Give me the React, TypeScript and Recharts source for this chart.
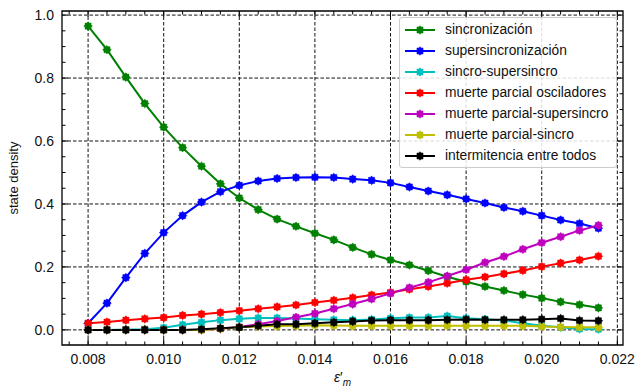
import { LineChart, Line, XAxis, YAxis, CartesianGrid, Legend, ReferenceArea } from 'recharts';

// coupling values on the x axis
const eps = [
  0.008, 0.0085, 0.009, 0.0095, 0.01, 0.0105, 0.011, 0.0115, 0.012, 0.0125,
  0.013, 0.0135, 0.014, 0.0145, 0.015, 0.0155, 0.016, 0.0165, 0.017, 0.0175,
  0.018, 0.0185, 0.019, 0.0195, 0.02, 0.0205, 0.021, 0.0215,
];

const sincronizacion = [
  0.965, 0.89, 0.803, 0.719, 0.644, 0.579, 0.52, 0.464, 0.419, 0.382,
  0.352, 0.329, 0.307, 0.286, 0.262, 0.24, 0.222, 0.206, 0.188, 0.169,
  0.153, 0.138, 0.125, 0.112, 0.101, 0.089, 0.08, 0.07,
];
const supersincronizacion = [
  0.021, 0.085, 0.166, 0.243, 0.309, 0.363, 0.406, 0.439, 0.459, 0.473,
  0.481, 0.484, 0.485, 0.484, 0.479, 0.475, 0.467, 0.454, 0.441, 0.429,
  0.416, 0.403, 0.389, 0.377, 0.363, 0.349, 0.338, 0.323,
];
const sincroSupersincro = [
  0, 0, 0.001, 0.002, 0.007, 0.016, 0.024, 0.031, 0.035, 0.038,
  0.038, 0.036, 0.034, 0.032, 0.031, 0.033, 0.037, 0.039, 0.039, 0.044,
  0.037, 0.034, 0.03, 0.021, 0.013, 0.008, 0.003, 0.002,
];
const muerteParcial = [
  0.021, 0.025, 0.031, 0.035, 0.039, 0.046, 0.05, 0.055, 0.061, 0.067,
  0.073, 0.079, 0.087, 0.094, 0.102, 0.111, 0.119, 0.129, 0.138, 0.148,
  0.159, 0.168, 0.178, 0.189, 0.201, 0.212, 0.222, 0.234,
];
const muerteSupersincro = [
  0, 0, 0, 0, 0, 0, 0, 0.004, 0.009, 0.018,
  0.028, 0.04, 0.052, 0.067, 0.082, 0.098, 0.116, 0.134, 0.151, 0.171,
  0.191, 0.214, 0.233, 0.256, 0.277, 0.296, 0.316, 0.332,
];
const muerteSincro = [
  0, 0, 0, 0, 0, 0, 0, 0.004, 0.008, 0.011,
  0.012, 0.013, 0.015, 0.014, 0.013, 0.013, 0.013, 0.013, 0.013, 0.013,
  0.013, 0.013, 0.013, 0.013, 0.011, 0.009, 0.008, 0.008,
];
const intermitencia = [
  0, 0, 0, 0, 0, 0, 0.002, 0.005, 0.008, 0.013,
  0.018, 0.018, 0.021, 0.024, 0.027, 0.03, 0.031, 0.031, 0.031, 0.032,
  0.033, 0.032, 0.032, 0.032, 0.034, 0.036, 0.03, 0.029,
];

const xMajor = [0.008, 0.01, 0.012, 0.014, 0.016, 0.018, 0.02, 0.022];
const xTicks = [
  0.0075, 0.008, 0.0085, 0.009, 0.0095, 0.01, 0.0105, 0.011, 0.0115, 0.012,
  0.0125, 0.013, 0.0135, 0.014, 0.0145, 0.015, 0.0155, 0.016, 0.0165, 0.017,
  0.0175, 0.018, 0.0185, 0.019, 0.0195, 0.02, 0.0205, 0.021, 0.0215, 0.022,
];
const yMajor = [0, 0.2, 0.4, 0.6, 0.8, 1.0];
const yTicks = [
  0, 0.05, 0.1, 0.15, 0.2, 0.25, 0.3, 0.35, 0.4, 0.45, 0.5,
  0.55, 0.6, 0.65, 0.7, 0.75, 0.8, 0.85, 0.9, 0.95, 1.0,
];

const series = [
  { key: 'sinc', name: 'sincronización', color: '#008000', values: sincronizacion },
  { key: 'super', name: 'supersincronización', color: '#0000ff', values: supersincronizacion },
  { key: 'sincSuper', name: 'sincro-supersincro', color: '#00bfbf', values: sincroSupersincro },
  { key: 'muerte', name: 'muerte parcial osciladores', color: '#ff0000', values: muerteParcial },
  { key: 'muerteSuper', name: 'muerte parcial-supersincro', color: '#bf00bf', values: muerteSupersincro },
  { key: 'muerteSinc', name: 'muerte parcial-sincro', color: '#bfbf00', values: muerteSincro },
  { key: 'inter', name: 'intermitencia entre todos', color: '#000000', values: intermitencia },
];

const data = eps.map((e, i) => {
  const row: Record<string, number> = { eps: e };
  series.forEach((s) => (row[s.key] = s.values[i]));
  return row;
});

const W = 635;
const H = 389;
const PLOT_LEFT = 62;
const PLOT_RIGHT = 623;
const PLOT_TOP = 11;
const PLOT_BOTTOM = 345;
const X_DOMAIN: [number, number] = [0.00731, 0.02215];
const Y_DOMAIN: [number, number] = [-0.048, 1.013];
const FONT = '"Liberation Sans", Arial, Helvetica, sans-serif';

const isMajor = (v: number, list: number[]) => list.some((m) => Math.abs(m - v) < 1e-9);

function starPoints(cx: number, cy: number, ro: number, ri: number) {
  const pts: string[] = [];
  for (let k = 0; k < 16; k++) {
    const r = k % 2 === 0 ? ro : ri;
    const a = (Math.PI / 8) * k - Math.PI / 2;
    pts.push(`${cx + r * Math.cos(a)},${cy + r * Math.sin(a)}`);
  }
  return pts.join(' ');
}

function Star({ cx, cy, color }: { cx: number; cy: number; color: string }) {
  if (cx == null || cy == null) return null;
  return <polygon points={starPoints(cx, cy, 4.3, 3.3)} fill={color} stroke={color} strokeWidth={0.5} />;
}

function XTick(props: any) {
  const { x, payload } = props;
  const v = payload.value as number;
  const major = isMajor(v, xMajor);
  const len = major ? 6 : 3.5;
  return (
    <g>
      <line x1={x} x2={x} y1={PLOT_BOTTOM} y2={PLOT_BOTTOM - len} stroke="#000" strokeWidth={1} />
      <line x1={x} x2={x} y1={PLOT_TOP} y2={PLOT_TOP + len} stroke="#000" strokeWidth={1} />
      {major && (
        <text x={x} y={PLOT_BOTTOM + 13.5} textAnchor="middle" dominantBaseline="central"
          fontFamily={FONT} fontSize={14} fill="#111">
          {v.toFixed(3)}
        </text>
      )}
    </g>
  );
}

function YTick(props: any) {
  const { y, payload } = props;
  const v = payload.value as number;
  const major = isMajor(v, yMajor);
  const len = major ? 6 : 3.5;
  return (
    <g>
      <line x1={PLOT_LEFT} x2={PLOT_LEFT + len} y1={y} y2={y} stroke="#000" strokeWidth={1} />
      <line x1={PLOT_RIGHT} x2={PLOT_RIGHT - len} y1={y} y2={y} stroke="#000" strokeWidth={1} />
      {major && (
        <text x={PLOT_LEFT - 8} y={y} textAnchor="end" dominantBaseline="central"
          fontFamily={FONT} fontSize={14} fill="#111">
          {v.toFixed(1)}
        </text>
      )}
    </g>
  );
}

function LegendBox() {
  return (
    <div
      style={{
        border: '1px solid #cccccc',
        borderRadius: 3,
        background: 'rgba(255,255,255,0.85)',
        padding: '1px 0',
        width: 216,
        fontFamily: FONT,
        fontSize: 13.8,
        color: '#111',
      }}
    >
      {series.map((s) => (
        <div key={s.key} style={{ display: 'flex', alignItems: 'center', height: 21 }}>
          <svg width={41} height={12} style={{ marginLeft: 4, flex: 'none' }}>
            <line x1={1} x2={31} y1={6} y2={6} stroke={s.color} strokeWidth={2} />
            <Star cx={16} cy={6} color={s.color} />
          </svg>
          <span style={{ whiteSpace: 'nowrap' }}>{s.name}</span>
        </div>
      ))}
    </div>
  );
}

export default function App() {
  return (
    <div style={{ position: 'absolute', left: 0, top: 0, width: W, height: H, background: '#fff' }}>
      <LineChart
        width={W}
        height={H}
        data={data}
        margin={{ top: PLOT_TOP, right: W - PLOT_RIGHT, left: 0, bottom: 0 }}
      >
        <CartesianGrid
          stroke="#111"
          strokeWidth={1}
          strokeDasharray="3.5 2"
          horizontalValues={yMajor}
          verticalValues={xMajor}
        />
        <XAxis
          dataKey="eps"
          type="number"
          domain={X_DOMAIN}
          allowDataOverflow
          ticks={xTicks}
          interval={0}
          tick={XTick}
          tickLine={false}
          axisLine={false}
          height={H - PLOT_BOTTOM}
          label={{
            content: () => (
              <text x={(PLOT_LEFT + PLOT_RIGHT) / 2} y={382} textAnchor="middle"
                fontFamily={FONT} fontSize={14} fill="#111">
                <tspan fontStyle="italic">ε</tspan>
                <tspan>′</tspan>
                <tspan dy={4} fontSize={10} fontStyle="italic">m</tspan>
              </text>
            ),
          }}
        />
        <YAxis
          type="number"
          domain={Y_DOMAIN}
          allowDataOverflow
          ticks={yTicks}
          interval={0}
          tick={YTick}
          tickLine={false}
          axisLine={false}
          width={PLOT_LEFT}
          label={{
            content: () => (
              <text x={13} y={(PLOT_TOP + PLOT_BOTTOM) / 2} textAnchor="middle" dominantBaseline="central"
                transform={`rotate(-90 13 ${(PLOT_TOP + PLOT_BOTTOM) / 2})`}
                fontFamily={FONT} fontSize={13} fill="#111">
                state density
              </text>
            ),
          }}
        />
        <ReferenceArea
          x1={X_DOMAIN[0]}
          x2={X_DOMAIN[1]}
          y1={Y_DOMAIN[0]}
          y2={Y_DOMAIN[1]}
          fill="none"
          stroke="#000"
          strokeWidth={1.3}
          ifOverflow="extendDomain"
        />
        {series.map((s) => (
          <Line
            key={s.key}
            type="linear"
            dataKey={s.key}
            name={s.name}
            stroke={s.color}
            strokeWidth={2}
            isAnimationActive={false}
            dot={(p: any) => <Star key={`${s.key}-${p.index}`} cx={p.cx} cy={p.cy} color={s.color} />}
            activeDot={false}
          />
        ))}
        <Legend
          layout="vertical"
          align="center"
          verticalAlign="middle"
          content={<LegendBox />}
          wrapperStyle={{ left: 399, top: 17, width: 218 }}
        />
      </LineChart>
    </div>
  );
}
